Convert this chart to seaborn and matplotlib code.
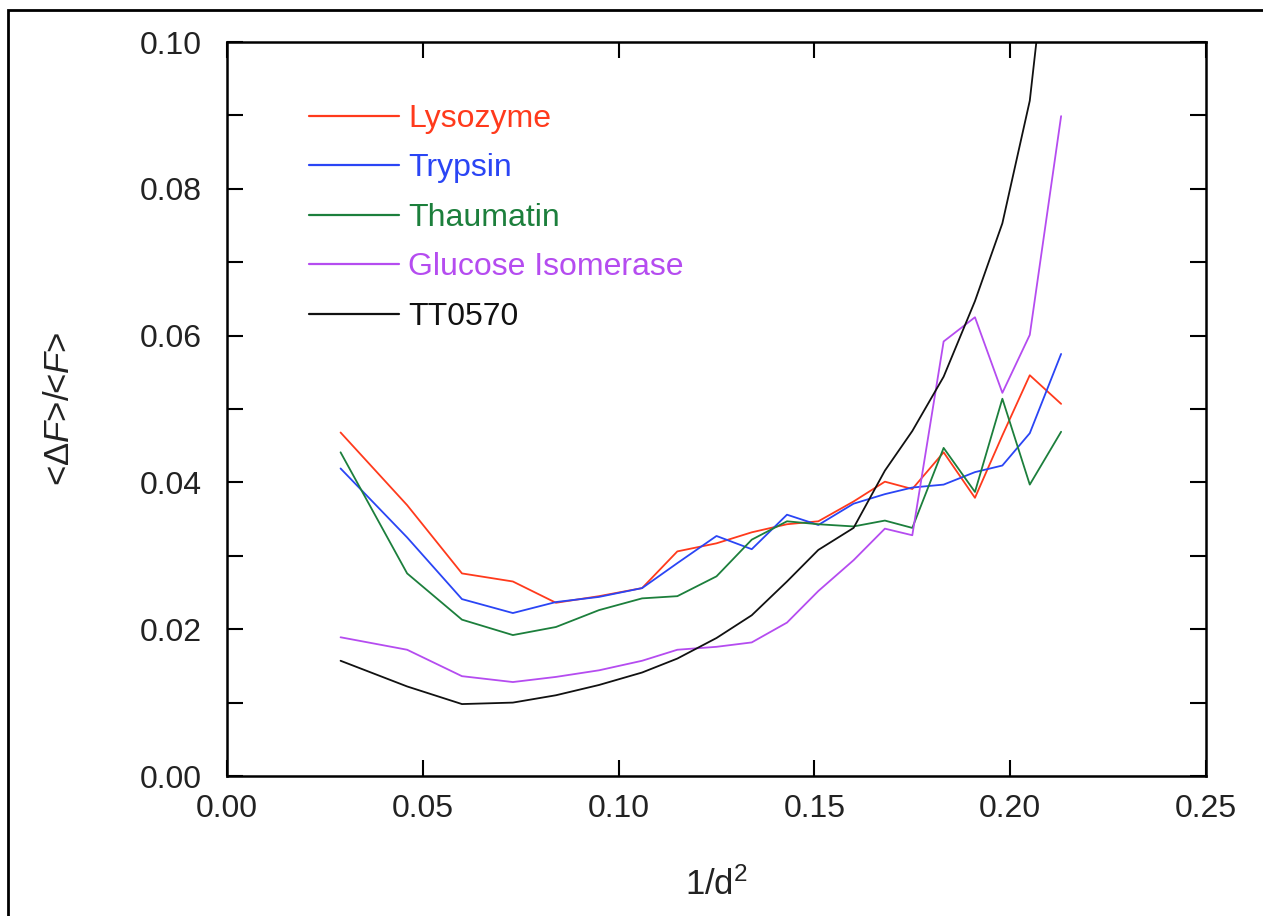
import numpy as np
import pandas as pd
import matplotlib
matplotlib.use("Agg")
import matplotlib.pyplot as plt
from matplotlib.ticker import MultipleLocator, FormatStrFormatter
from matplotlib.patches import Rectangle
import seaborn as sns

# data
inv_d2 = [0.029, 0.046, 0.060, 0.073, 0.084, 0.095, 0.106, 0.115, 0.125, 0.134,
          0.143, 0.151, 0.160, 0.168, 0.175, 0.183, 0.191, 0.198, 0.205, 0.213]
lysozyme = [0.0468, 0.0369, 0.0276, 0.0265, 0.0236, 0.0245, 0.0256, 0.0306, 0.0317, 0.0332,
            0.0343, 0.0347, 0.0374, 0.0401, 0.0391, 0.0441, 0.0379, 0.0464, 0.0546, 0.0507]
trypsin = [0.0419, 0.0325, 0.0241, 0.0222, 0.0237, 0.0244, 0.0256, 0.0290, 0.0327, 0.0309,
           0.0356, 0.0342, 0.0371, 0.0384, 0.0393, 0.0397, 0.0414, 0.0423, 0.0467, 0.0575]
thaumatin = [0.0441, 0.0276, 0.0213, 0.0192, 0.0203, 0.0226, 0.0242, 0.0245, 0.0272, 0.0322,
             0.0347, 0.0343, 0.0340, 0.0348, 0.0338, 0.0447, 0.0387, 0.0514, 0.0397, 0.0469]
glucose_isomerase = [0.0189, 0.0172, 0.0136, 0.0128, 0.0135, 0.0144, 0.0157, 0.0172, 0.0176, 0.0182,
                     0.0209, 0.0252, 0.0294, 0.0337, 0.0328, 0.0592, 0.0625, 0.0522, 0.0601, 0.0899]
tt0570 = [0.0157, 0.0122, 0.0098, 0.0100, 0.0110, 0.0124, 0.0141, 0.0160, 0.0188, 0.0219,
          0.0265, 0.0308, 0.0338, 0.0416, 0.0470, 0.0544, 0.0647, 0.0753, 0.0920, 0.1300]

names = ["Lysozyme", "Trypsin", "Thaumatin", "Glucose Isomerase", "TT0570"]
series = [lysozyme, trypsin, thaumatin, glucose_isomerase, tt0570]
colors = ["#ff3a1c", "#2a45f5", "#1c7f3c", "#b54cf0", "#111111"]

df = pd.concat([pd.DataFrame({"x": inv_d2, "y": s, "protein": n}) for n, s in zip(names, series)])

sns.set_theme(style="ticks")
plt.rcParams["font.family"] = ["Liberation Sans", "DejaVu Sans"]
plt.rcParams["mathtext.fontset"] = "custom"
plt.rcParams["mathtext.rm"] = "Liberation Sans"
plt.rcParams["mathtext.it"] = "Liberation Sans:italic"

fig = plt.figure(figsize=(12.63, 9.16), dpi=100)
ax = fig.add_axes([227 / 1263, 140 / 916, 979 / 1263, 734 / 916])

sns.lineplot(data=df, x="x", y="y", hue="protein", hue_order=names,
             palette=dict(zip(names, colors)), linewidth=1.3, ax=ax, legend=True)

ax.set_xlim(0, 0.25)
ax.set_ylim(0, 0.10)
ax.xaxis.set_major_locator(MultipleLocator(0.05))
ax.yaxis.set_major_locator(MultipleLocator(0.02))
ax.yaxis.set_minor_locator(MultipleLocator(0.01))
ax.xaxis.set_major_formatter(FormatStrFormatter("%.2f"))
ax.yaxis.set_major_formatter(FormatStrFormatter("%.2f"))
ax.tick_params(which="both", direction="in", top=True, right=True, length=11.5,
               width=1.5, color="black")
ax.tick_params(axis="y", which="major", labelsize=23, pad=18, labelcolor="#222222")
ax.tick_params(axis="x", which="major", labelsize=23, pad=13, labelcolor="#222222")
for sp in ax.spines.values():
    sp.set_linewidth(1.8)
    sp.set_color("black")

ax.set_xlabel("1/d$^2$", fontsize=25, labelpad=31, color="#222222")
ax.set_ylabel(r"<$\Delta\mathit{F}$>/<$\mathit{F}$>", fontsize=25, labelpad=46, color="#222222")

leg = ax.legend(loc="upper left", bbox_to_anchor=((309 - 227) / 979, (776 - 104) / 734),
                frameon=False, fontsize=23, handlelength=2.82, handletextpad=0.28,
                labelspacing=0.61, borderaxespad=0, borderpad=0, labelcolor="linecolor")
for h in leg.get_lines():
    h.set_linewidth(1.6)

fig.patches.append(Rectangle((8 / 1263, -0.1), 2, 1.1 - 10 / 916, transform=fig.transFigure,
                             fill=False, linewidth=2, edgecolor="black"))

plt.savefig("out.png", dpi=100)
